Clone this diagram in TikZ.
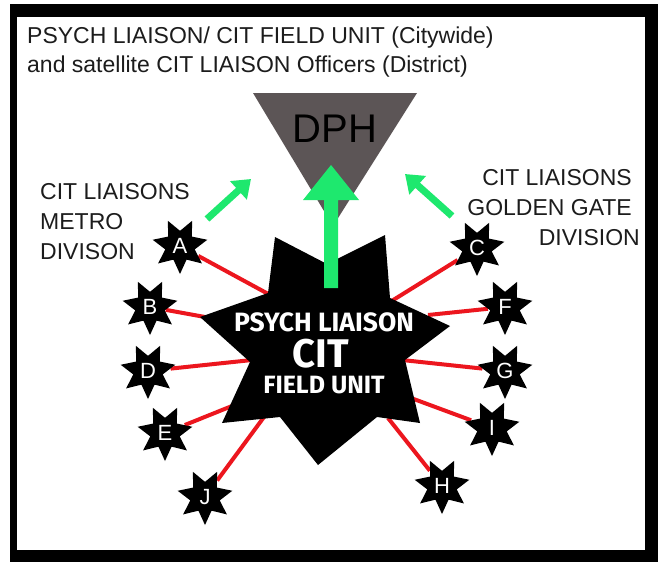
\documentclass[tikz,border=0pt]{standalone}
\usepackage{fontspec}
\setmainfont{Liberation Sans}
\newfontfamily\hubfont{Fira Sans}
\usetikzlibrary{shapes.geometric,arrows.meta}
\definecolor{citgreen}{RGB}{30,232,110}
\definecolor{citred}{RGB}{236,22,30}
\definecolor{dphgray}{RGB}{92,85,86}
\definecolor{txtdark}{RGB}{28,28,28}
\pgfdeclarelayer{back}
\pgfdeclarelayer{bg}
\pgfsetlayers{back,bg,main}
\tikzset{
  sat/.style={star, star points=7, star point ratio=1.85, shape border rotate=180,
    minimum size=56pt, inner sep=0pt, fill=black, draw=none},
  satletter/.style={text=white, font=\fontsize{22}{22}\selectfont, inner sep=0pt},
  spoke/.style={draw=citred, line width=4pt},
  greenarrow/.style={draw=citgreen, line width=7pt, -{Triangle[length=17pt,width=24pt]}},
  label/.style={text=txtdark, font=\fontsize{23}{23}\selectfont, inner sep=0pt},
  hubtxt/.style={text=white, inner sep=0pt}
}
\begin{document}
\begin{tikzpicture}[x=1pt,y=-1pt]
\useasboundingbox (0,0) rectangle (658,562);
\begin{pgfonlayer}{back}
\fill[white] (0,0) rectangle (658,562);
\fill[black] (10,4) rectangle (658,562);
\fill[white] (17,17) rectangle (645,550);
\end{pgfonlayer}

% title
\node[label, anchor=base west] (title1) at (27,43) {PSYCH LIAISON/ CIT FIELD UNIT (Citywide)};
\node[label, anchor=base west] (title2) at (27,72) {and satellite CIT LIAISON Officers (District)};

% DPH triangle
\fill[dphgray] (253,93) -- (417,93) -- (333,226) -- cycle;
\node[text=black, font=\fontsize{40}{40}\selectfont, inner sep=0pt, anchor=base] (dph) at (335,142) {DPH};

% side labels
\node[label, anchor=base west] (m1) at (40,199) {CIT LIAISONS};
\node[label, anchor=base west] (m2) at (40,229) {METRO};
\node[label, anchor=base west] (m3) at (40,259) {DIVISON};
\node[label, anchor=base east] (g1) at (632,185) {CIT LIAISONS};
\node[label, anchor=base east] (g2) at (632,215) {GOLDEN GATE};
\node[label, anchor=base east] (g3) at (640,245) {DIVISION};

% small green arrows
\coordinate (la0) at (207,219);
\coordinate (la1) at (251,179);
\coordinate (ra0) at (452,216);
\coordinate (ra1) at (405,174);
\draw[greenarrow] (la0) -- (la1);
\draw[greenarrow] (ra0) -- (ra1);

% satellites
\foreach \n/\x/\y in {A/180/246, B/150/307, D/148/371, E/165/433, J/205/497,
                      C/477/248, F/505/307, G/505/371, I/492/428, H/442/486}{
  \node[sat] (\n) at (\x,\y) {};
  \node[satletter] (\n-t) at (\x,\y) {\n};
}

% spoke ends on hub
\coordinate (eA) at (272,296);
\coordinate (eB) at (205,317);
\coordinate (eD) at (252,360);
\coordinate (eE) at (232,406);
\coordinate (eJ) at (264,417);
\coordinate (eC) at (390,302);
\coordinate (eF) at (428,315);
\coordinate (eG) at (402,360);
\coordinate (eI) at (411,398);
\coordinate (eH) at (388,418);
\begin{pgfonlayer}{bg}
\foreach \n in {A,B,D,E,J,C,F,G,I,H}{
  \draw[spoke] (\n) -- (e\n);
}
\end{pgfonlayer}

% hub star
\fill[black] (275,237) -- (327,264) -- (385,235) -- (390,298) -- (450,326) -- (405,360)
  -- (420,423) -- (377,417) -- (318,465) -- (280,417) -- (222,423) -- (250,362)
  -- (200,317) -- (268,293) -- cycle;

% big green arrow
\fill[citgreen] (324,288) -- (338,288) -- (338,200) -- (359,200) -- (331,165)
  -- (303,200) -- (324,200) -- cycle;

% hub text
\node[hubtxt, align=center, anchor=north,
      font=\hubfont\bfseries\fontsize{26.5}{0}\selectfont] (hubtext) at (324,312)
  {PSYCH LIAISON\\[7pt]
   {\fontsize{40}{0}\selectfont CIT\kern6pt}\\[7pt]
   {\fontsize{25}{0}\selectfont FIELD UNIT}};
\end{tikzpicture}
\end{document}
